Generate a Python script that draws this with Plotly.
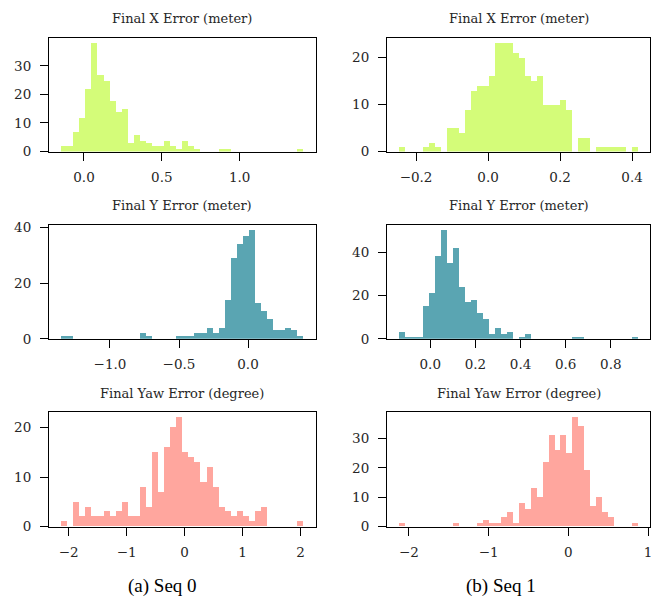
import numpy as np
import plotly.graph_objects as go

# ---- data: 40-bin histogram counts, with data min / max of each panel ----
seq0_x_counts = [2, 2, 7, 12, 22, 38, 27, 25, 18, 14, 15, 3, 6, 4, 3, 2, 2, 4, 2, 1,
                 4, 2, 1, 0, 0, 0, 1, 1, 0, 0, 0, 0, 0, 0, 0, 0, 0, 0, 0, 1]
seq0_x_range = [-0.146, 1.411]

seq1_x_counts = [1, 0, 0, 0, 1, 2, 1, 0, 5, 5, 4, 9, 13, 14, 14, 16, 23, 23, 23, 21,
                 20, 16, 15, 16, 10, 10, 10, 11, 9, 0, 3, 3, 0, 1, 1, 1, 1, 1, 0, 1]
seq1_x_range = [-0.247, 0.4175]

seq0_y_counts = [1, 1, 0, 0, 0, 0, 0, 0, 0, 0, 0, 0, 0, 2, 1, 0, 0, 0, 0, 1,
                 1, 1, 2, 2, 4, 2, 4, 14, 29, 34, 37, 39, 13, 10, 7, 3, 3, 4, 3, 1]
seq0_y_range = [-1.353, 0.403]

seq1_y_counts = [3, 1, 1, 1, 15, 21, 38, 50, 35, 42, 24, 17, 18, 12, 9, 2, 5, 2, 3, 0,
                 1, 2, 0, 0, 0, 0, 0, 0, 0, 1, 1, 0, 0, 0, 0, 0, 0, 0, 0, 1]
seq1_y_range = [-0.138, 0.922]

seq0_yaw_counts = [1, 0, 5, 2, 4, 2, 2, 3, 2, 3, 5, 2, 2, 8, 4, 15, 7, 16, 20, 22,
                   15, 14, 13, 9, 12, 8, 4, 3, 2, 3, 2, 1, 3, 4, 0, 0, 0, 0, 0, 1]
seq0_yaw_range = [-2.126, 2.052]

seq1_yaw_counts = [1, 0, 0, 0, 0, 0, 0, 0, 0, 1, 0, 0, 0, 1, 2, 1, 1, 3, 5, 1,
                   8, 6, 13, 10, 22, 31, 26, 31, 25, 37, 34, 19, 7, 10, 5, 3, 0, 0, 0, 1]
seq1_yaw_range = [-2.122, 0.878]

titles = ["Final X Error (meter)", "Final Y Error (meter)", "Final Yaw Error (degree)"]
captions = ["(a) Seq 0", "(b) Seq 1"]

x_ticks = [
    ([0.0, 0.5, 1.0], ["0.0", "0.5", "1.0"]),
    ([-0.2, 0.0, 0.2, 0.4], ["\u22120.2", "0.0", "0.2", "0.4"]),
    ([-1.0, -0.5, 0.0], ["\u22121.0", "\u22120.5", "0.0"]),
    ([0.0, 0.2, 0.4, 0.6, 0.8], ["0.0", "0.2", "0.4", "0.6", "0.8"]),
    ([-2, -1, 0, 1, 2], ["\u22122", "\u22121", "0", "1", "2"]),
    ([-2, -1, 0, 1], ["\u22122", "\u22121", "0", "1"]),
]
y_ticks = [
    [0, 10, 20, 30],
    [0, 10, 20],
    [0, 20, 40],
    [0, 20, 40],
    [0, 10, 20],
    [0, 10, 20, 30],
]

colors = ["#d4fc79", "#5aa5b2", "#ffa69e"]

panels = [
    (seq0_x_counts, seq0_x_range), (seq1_x_counts, seq1_x_range),
    (seq0_y_counts, seq0_y_range), (seq1_y_counts, seq1_y_range),
    (seq0_yaw_counts, seq0_yaw_range), (seq1_yaw_counts, seq1_yaw_range),
]

# ---- layout geometry (pixels) ----
W, H = 670, 608
col_px = [(49.3, 316.7), (388.3, 652.3)]
row_px = [(32.3, 149.0), (224.2, 340.7), (416.0, 533.0)]
title_y_px = [12.5, 204.0, 396.5]

fig = go.Figure()
layout = dict(
    width=W, height=H, margin=dict(l=0, r=0, t=0, b=0),
    paper_bgcolor="white", plot_bgcolor="white",
    showlegend=False, bargap=0,
    font=dict(family="DejaVu Serif", size=13, color="#262626"),
)
annotations = []

for i, (counts, (lo, hi)) in enumerate(panels):
    r, c = divmod(i, 2)
    n = len(counts)
    edges = np.linspace(lo, hi, n + 1)
    centers = (edges[:-1] + edges[1:]) / 2
    bw = (hi - lo) / n
    ax = i + 1
    xa = "x" if ax == 1 else f"x{ax}"
    ya = "y" if ax == 1 else f"y{ax}"
    fig.add_trace(go.Bar(
        x=centers, y=counts, width=bw,
        marker=dict(color=colors[r], line=dict(width=0)),
        xaxis=xa, yaxis=ya, hoverinfo="skip",
    ))
    pad = 0.05 * (hi - lo)
    x0, x1 = col_px[c]
    yt, yb = row_px[r]
    common = dict(
        showline=True, linecolor="black", linewidth=1.3, mirror=True,
        ticks="outside", ticklen=8, tickwidth=1.3, tickcolor="black",
        showgrid=False, zeroline=False,
        tickfont=dict(family="DejaVu Serif", size=13.5, color="#262626"),
    )
    layout["xaxis" if ax == 1 else f"xaxis{ax}"] = dict(
        common, domain=[x0 / W, x1 / W], range=[lo - pad, hi + pad],
        tickvals=x_ticks[i][0], ticktext=x_ticks[i][1],
        anchor=ya, ticklabelstandoff=5,
    )
    layout["yaxis" if ax == 1 else f"yaxis{ax}"] = dict(
        common, domain=[1 - yb / H, 1 - yt / H], range=[0, max(counts) * 1.05],
        tickvals=y_ticks[i], anchor=xa, ticklabelstandoff=6,
    )
    annotations.append(dict(
        text=titles[r], x=(x0 + x1) / 2 / W, y=1 - title_y_px[r] / H,
        xref="paper", yref="paper", xanchor="center", yanchor="middle",
        showarrow=False, font=dict(family="DejaVu Serif", size=13, color="#262626"),
    ))

for c, (cx, cap) in enumerate(zip([163, 502.5], captions)):
    annotations.append(dict(
        text=cap, x=cx / W, y=1 - 594 / H, xref="paper", yref="paper",
        xanchor="center", yanchor="middle", showarrow=False,
        font=dict(family="Liberation Serif", size=19, color="black"),
    ))

layout["annotations"] = annotations
fig.update_layout(**layout)
fig.write_html("out.html")
